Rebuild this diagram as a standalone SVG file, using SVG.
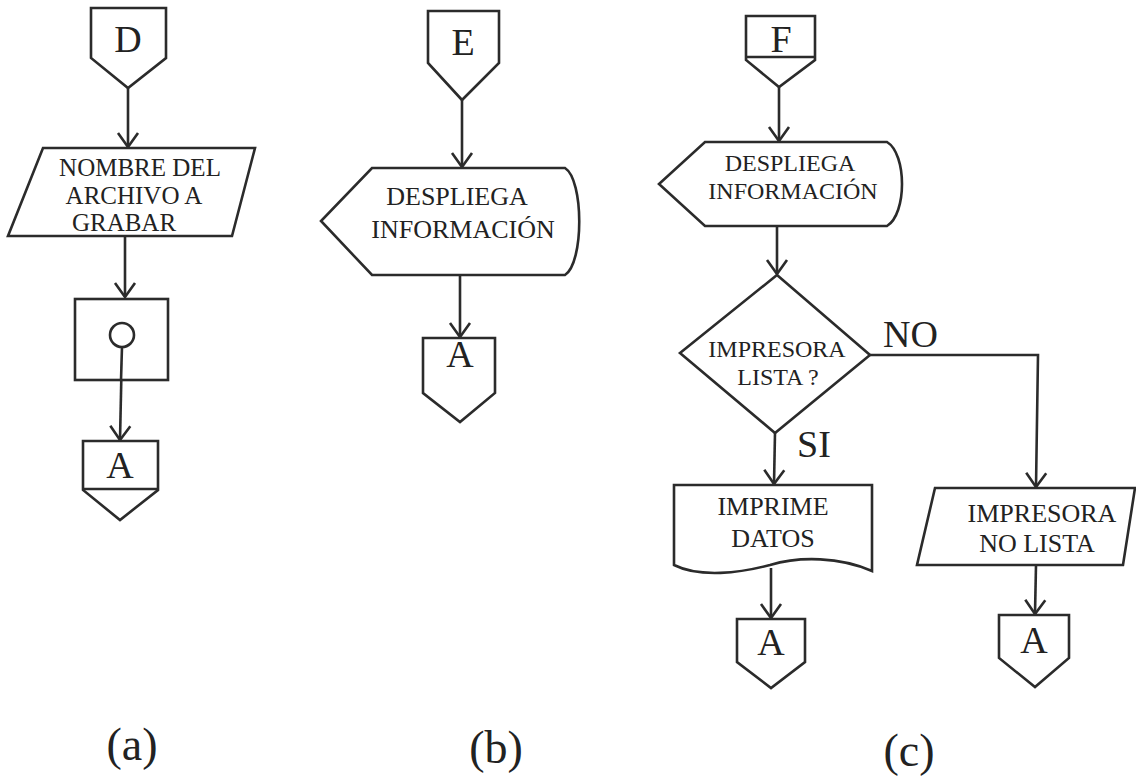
<svg xmlns="http://www.w3.org/2000/svg" width="1136" height="777" viewBox="0 0 1136 777">
<style>
.s{fill:none;stroke:#2b2b2b;stroke-width:2.6;stroke-linejoin:miter}
.w{fill:#fff;stroke:#2b2b2b;stroke-width:2.6}
.t{font-family:"Liberation Serif","Times New Roman",serif;font-size:26px;fill:#222;text-anchor:middle}
.c{font-family:"Liberation Serif","Times New Roman",serif;font-size:38px;fill:#222;text-anchor:middle}
.y{font-family:"Liberation Serif","Times New Roman",serif;font-size:38px;fill:#222}
.lab{font-family:"Liberation Serif","Times New Roman",serif;font-size:46px;fill:#222;text-anchor:middle}
</style>
<defs>
<marker id="ah" markerUnits="userSpaceOnUse" markerWidth="20" markerHeight="24" viewBox="-15 -12 18 24" refX="0" refY="0" orient="auto" overflow="visible">
<path d="M-14,-10 L0,0 L-14,10" fill="none" stroke="#2b2b2b" stroke-width="2.6"/>
</marker>
</defs>

<g id="connectors" class="s">
<line x1="128" y1="88" x2="128" y2="147" marker-end="url(#ah)"/>
<line x1="125" y1="236" x2="125" y2="297" marker-end="url(#ah)"/>
<line x1="122" y1="347" x2="120" y2="440" marker-end="url(#ah)"/>
<line x1="462" y1="100" x2="462" y2="167" marker-end="url(#ah)"/>
<line x1="460" y1="275" x2="460" y2="337" marker-end="url(#ah)"/>
<line x1="779" y1="87" x2="779" y2="141" marker-end="url(#ah)"/>
<line x1="777" y1="226" x2="777" y2="274" marker-end="url(#ah)"/>
<line x1="775" y1="433" x2="774" y2="484" marker-end="url(#ah)"/>
<polyline points="870,355 1038,355 1036,487" marker-end="url(#ah)"/>
<line x1="771" y1="568" x2="771" y2="618" marker-end="url(#ah)"/>
<line x1="1036" y1="565" x2="1035" y2="614" marker-end="url(#ah)"/>
</g>

<g id="conD">
<polygon class="w" points="91,8 166,8 166,58 128,88 91,58"/>
<text class="c" x="128" y="52">D</text>
</g>
<g id="inputA">
<polygon class="w" points="43,148 255,148 232,236 8,236"/>
<text class="t" x="140" y="176" style="font-size:25px">NOMBRE DEL</text>
<text class="t" x="134" y="204" style="font-size:25px">ARCHIVO A</text>
<text class="t" x="124" y="231" style="font-size:25px">GRABAR</text>
</g>
<g id="saveA">
<rect class="w" x="75" y="299" width="93" height="81"/>
<circle class="w" cx="122" cy="335" r="12"/>
<line class="s" x1="122" y1="347" x2="121" y2="380"/>
</g>
<g id="conAa">
<polygon class="w" points="83,441 158,441 158,490 120,520 83,490"/>
<line class="s" x1="83" y1="489" x2="158" y2="489"/>
<text class="c" x="120" y="478">A</text>
</g>

<g id="conE">
<polygon class="w" points="428,11 499,11 499,63 462,100 428,63"/>
<text class="c" x="463" y="55">E</text>
</g>
<g id="displayB">
<path class="w" d="M372,168 L565,168 C584,180 584,263 565,275 L372,275 L321,221 Z"/>
<text class="t" x="457" y="205">DESPLIEGA</text>
<text class="t" x="463" y="238">INFORMACIÓN</text>
</g>
<g id="conAb">
<polygon class="w" points="423,338 495,338 495,393 460,422 423,393"/>
<text class="c" x="460" y="367">A</text>
</g>

<g id="conF">
<polygon class="w" points="746,16 815,16 815,60 779,87 746,60"/>
<line class="s" x1="746" y1="57" x2="815" y2="57"/>
<text class="c" x="781" y="52">F</text>
</g>
<g id="displayC">
<path class="w" d="M705,142 L887,142 C907,154 907,214 887,226 L705,226 L659,184 Z"/>
<text class="t" x="790" y="171" style="font-size:24px">DESPLIEGA</text>
<text class="t" x="793" y="199" style="font-size:24px">INFORMACIÓN</text>
</g>
<g id="decision">
<polygon class="w" points="777,275 870,355 775,433 680,353"/>
<text class="t" x="777" y="357" style="font-size:24px">IMPRESORA</text>
<text class="t" x="778" y="385" style="font-size:24px">LISTA ?</text>
</g>
<text class="y" x="883" y="347">NO</text>
<text class="y" x="797" y="457">SI</text>
<g id="printDoc">
<path class="w" d="M674,485 L872,485 L872,571 C840,557 800,556 770,565 C740,573 700,578 674,565 Z"/>
<text class="t" x="773" y="515">IMPRIME</text>
<text class="t" x="773" y="547">DATOS</text>
</g>
<g id="msgNoLista">
<polygon class="w" points="935,488 1135,488 1123,565 917,565"/>
<text class="t" x="1042" y="522">IMPRESORA</text>
<text class="t" x="1037" y="552">NO LISTA</text>
</g>
<g id="conAc1">
<polygon class="w" points="737,619 805,619 805,662 771,688 737,662"/>
<text class="c" x="771" y="655">A</text>
</g>
<g id="conAc2">
<polygon class="w" points="999,615 1069,615 1069,658 1035,687 999,658"/>
<text class="c" x="1034" y="653">A</text>
</g>

<text class="lab" x="132" y="760">(a)</text>
<text class="lab" x="496" y="763">(b)</text>
<text class="lab" x="909" y="766">(c)</text>
</svg>
